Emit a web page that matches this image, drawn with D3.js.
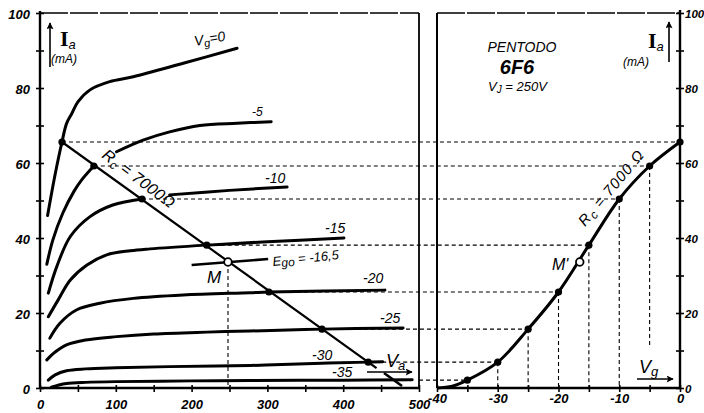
<!DOCTYPE html>
<html><head><meta charset="utf-8">
<script src="https://cdn.jsdelivr.net/npm/d3@7"></script>
<style>
html,body{margin:0;padding:0;background:#fff;}
svg{display:block;}
</style></head><body>
<svg id="c" width="704" height="413" font-family="Liberation Sans, DejaVu Sans, sans-serif" font-style="italic"></svg>
<script>
// ---------- DATA ----------
// Plate characteristics Ia (mA) vs Va (V) for each grid voltage; null = break in the drawn curve
const curveVg0   = [[10,46],[20,57],[29,65.6],[35,70.5],[42,73.2],[50,76.3],[66,79.5],[92,81.7],[123,83],[189,86.6],[260,90.6]];
const curveVg5   = [[9,33],[17,39.5],[30,46.6],[45,52.5],[55,55.5],[71,59.2],null,[101,63],[136,66.1],[171,68.3],[211,70],[260,70.6],[305,71]];
const curveVg10  = [[11,25.3],[22,32.3],[40,40.4],[66,45.7],[96,48.8],[134.6,50.4],null,[171,51.5],[250,52.7],[326,53.6]];
const curveVg15  = [[11,19],[24,23.5],[40,28.8],[62,32.8],[88,35.5],[119,36.6],[145,37.1],[220,38.1],[300,39],[401,40]];
const curveVg20  = [[13,13.3],[26,17.2],[48,20.8],[79,22.6],[123,23.9],[189,24.8],[277,25.4],[302,25.6],[455,26.1]];
const curveVg25  = [[9,7.5],[20,9.6],[35,11.5],[60,12.8],[101,13.7],[150,14.4],[220,14.9],[277,15.2],[372,15.7],[479,16]];
const curveVg30  = [[11,2.1],[20,3.5],[35,4.6],[60,5.1],[100,5.4],[170,5.7],[277,6.0],[372,6.6],[433,6.9],[452,7.0]];
const curveVg35  = [[15,0.2],[25,0.8],[35,1.2],[60,1.5],[100,1.7],[200,1.9],[277,2.0],[400,2.1],[491,2.2]];
const gridVoltages = [0,-5,-10,-15,-20,-25,-30,-35];
// operating points on the 7000 ohm load line
const opVa = [29,71,134.6,220,302,372,433,500];
const opIa = [65.6,59.2,50.4,38.1,25.6,15.7,6.9,2.1];
const loadLineEnds = [[29,65.6],[444,5.3]];
const pointM = [248,33.6];
const egoLine = [[200,32.8],[301,34.4]];
// dynamic transfer characteristic Ia vs Vg
const transferVg = [-40,-37.5,-35,-30,-25,-20,-15,-10,-5,0];
const transferIa = [0,0.5,2.1,6.9,15.7,25.6,38.1,50.4,59.2,65.6];
const pointMprime = [-16.5,33.6];
// ticks
const iaTicks = [0,10,20,30,40,50,60,70,80,90,100];
const vaTicks = [0,50,100,150,200,250,300,350,400,450,500];
const vgTicks = [-40,-35,-30,-25,-20,-15,-10,-5,0];

// ---------- SCALES ----------
const svg = d3.select("#c");
const xL = d3.scaleLinear().domain([0,500]).range([40,419]);
const yI = d3.scaleLinear().domain([0,100]).range([388,13]);
const xR = d3.scaleLinear().domain([-40,0]).range([437,680]);

const defs = svg.append("defs");
defs.append("marker").attr("id","arr").attr("viewBox","0 0 10 10").attr("refX",9).attr("refY",5)
  .attr("markerWidth",9).attr("markerHeight",7).attr("markerUnits","userSpaceOnUse").attr("orient","auto")
  .append("path").attr("d","M0,0 L10,5 L0,10 L2,5 Z").attr("fill","#000");

// ---------- AXES ----------
const axL = svg.append("g").attr("transform",`translate(${xL(0)},0)`)
  .call(d3.axisLeft(yI).tickValues(iaTicks).tickFormat(d=>d%20===0?d:"").tickSize(4).tickPadding(6));
const axB = svg.append("g").attr("transform",`translate(0,${yI(0)})`)
  .call(d3.axisBottom(xL).tickValues(vaTicks).tickFormat(d=>d%100===0?d:"").tickSize(4).tickPadding(7));
const axR = svg.append("g").attr("transform",`translate(${xR(0)},0)`)
  .call(d3.axisRight(yI).tickValues(iaTicks).tickFormat(d=>d%20===0?d:"").tickSize(4).tickPadding(1));
const axRB = svg.append("g").attr("transform",`translate(0,${yI(0)})`)
  .call(d3.axisBottom(xR).tickValues(vgTicks).tickFormat(d=>d%10===0?d:"").tickSize(4).tickPadding(4));
[axL,axB,axR,axRB].forEach(a=>{
  a.attr("font-family",null).attr("font-size",null);
  a.select(".domain").remove();
  a.selectAll("text").attr("font-size",13).attr("font-weight","bold").attr("fill","#000");
  a.selectAll(".tick line").attr("stroke","#000").attr("stroke-width",1.6);
});
axR.selectAll("text").attr("font-size",11.5);
axL.selectAll(".tick line").attr("x1",4).attr("x2",-4);
axR.selectAll(".tick line").attr("x1",-4).attr("x2",4);
axB.selectAll(".tick line").attr("y1",-3).attr("y2",4);
axRB.selectAll(".tick line").attr("y1",-3).attr("y2",4);
axL.selectAll("text").attr("dy","0.4em");
axR.selectAll("text").attr("dy","0.4em");
axRB.selectAll("text").attr("dy","0.55em");
axB.selectAll("text").attr("dy","0.75em");

// frames
const frame = svg.append("g").attr("stroke","#000").attr("fill","none");
frame.append("line").attr("x1",xL(0)).attr("x2",xL(0)).attr("y1",yI(100)-2).attr("y2",yI(0)).attr("stroke-width",2.4);
frame.append("line").attr("x1",xL(0)).attr("x2",xL(500)).attr("y1",yI(0)).attr("y2",yI(0)).attr("stroke-width",2.4);
frame.append("line").attr("x1",xL(500)).attr("x2",xL(500)).attr("y1",yI(100)).attr("y2",yI(0)).attr("stroke-width",1.8);
frame.append("line").attr("x1",xL(0)).attr("x2",xL(500)).attr("y1",yI(100)).attr("y2",yI(100)).attr("stroke-width",1.4).attr("stroke-dasharray","28,2");
frame.append("line").attr("x1",xR(-40)).attr("x2",xR(-40)).attr("y1",yI(100)).attr("y2",yI(0)).attr("stroke-width",2);
frame.append("line").attr("x1",xR(-40)).attr("x2",xR(0)).attr("y1",yI(0)).attr("y2",yI(0)).attr("stroke-width",2.4);
frame.append("line").attr("x1",xR(0)).attr("x2",xR(0)).attr("y1",yI(100)-3).attr("y2",yI(0)).attr("stroke-width",2.4);
frame.append("line").attr("x1",xR(-40)).attr("x2",xR(0)).attr("y1",yI(100)).attr("y2",yI(100)).attr("stroke-width",1.4).attr("stroke-dasharray","28,2");

// ---------- DASHED PROJECTIONS ----------
const dash = svg.append("g").attr("stroke","#000").attr("stroke-width",1.1).attr("stroke-dasharray","4,3").attr("fill","none");
gridVoltages.forEach((vg,i)=>{
  dash.append("line").attr("x1",xL(opVa[i])).attr("x2",xR(vg)).attr("y1",yI(opIa[i])).attr("y2",yI(opIa[i]));
  if (vg<0 && vg>-35) {
    dash.append("line").attr("x1",xR(vg)).attr("x2",xR(vg)).attr("y1",yI(opIa[i])).attr("y2",yI(vg===-5?11:0));
  }
});
dash.append("line").attr("x1",xL(pointM[0])).attr("x2",xL(pointM[0])).attr("y1",yI(pointM[1])).attr("y2",yI(0));

// ---------- CURVES ----------
const lineL = d3.line().defined(d=>d!==null).x(d=>xL(d[0])).y(d=>yI(d[1])).curve(d3.curveCatmullRom.alpha(0.5));
const curves = [curveVg0,curveVg5,curveVg10,curveVg15,curveVg20,curveVg25,curveVg30,curveVg35];
svg.append("g").selectAll("path").data(curves).join("path")
  .attr("d",lineL).attr("fill","none").attr("stroke","#000").attr("stroke-width",3).attr("stroke-linecap","round");

// load line
svg.append("line").attr("x1",xL(loadLineEnds[0][0])).attr("y1",yI(loadLineEnds[0][1]))
  .attr("x2",xL(loadLineEnds[1][0])).attr("y2",yI(loadLineEnds[1][1])).attr("stroke","#000").attr("stroke-width",2.2);
// Ego line
svg.append("line").attr("x1",xL(egoLine[0][0])).attr("y1",yI(egoLine[0][1]))
  .attr("x2",xL(egoLine[1][0])).attr("y2",yI(egoLine[1][1])).attr("stroke","#000").attr("stroke-width",2.6);

// transfer curve
const lineR = d3.line().x(d=>xR(d)).y((d,i)=>yI(transferIa[i])).curve(d3.curveCatmullRom.alpha(0.5));
svg.append("path").attr("d",lineR(transferVg)).attr("fill","none").attr("stroke","#000").attr("stroke-width",3);

// dots
svg.append("g").selectAll("circle").data(opVa.slice(0,7)).join("circle")
  .attr("cx",d=>xL(d)).attr("cy",(d,i)=>yI(opIa[i])).attr("r",3.6).attr("fill","#000");
svg.append("g").selectAll("circle").data(gridVoltages).join("circle")
  .attr("cx",d=>xR(d)).attr("cy",(d,i)=>yI(opIa[i])).attr("r",3.6).attr("fill","#000");
svg.append("circle").attr("cx",xL(pointM[0])).attr("cy",yI(pointM[1])).attr("r",3.8).attr("fill","#fff").attr("stroke","#000").attr("stroke-width",1.8);
svg.append("circle").attr("cx",xR(pointMprime[0])).attr("cy",yI(pointMprime[1])).attr("r",3.8).attr("fill","#fff").attr("stroke","#000").attr("stroke-width",1.8);

// ---------- ARROWS ----------
const arr = (x1,y1,x2,y2,w)=>svg.append("line").attr("x1",x1).attr("y1",y1).attr("x2",x2).attr("y2",y2)
  .attr("stroke","#000").attr("stroke-width",w||1.6).attr("marker-end","url(#arr)");
arr(50,67,50,23);
arr(669,62,669,22);
arr(367,372,412,372);
arr(637,379,673,379);
svg.append("line").attr("x1",384).attr("y1",373).attr("x2",402).attr("y2",386).attr("stroke","#000").attr("stroke-width",2.6);

// ---------- TEXT ----------
function txt(x,y,s,size,opt){
  opt = opt||{};
  const t = svg.append("text").attr("x",x).attr("y",y).attr("font-size",size);
  if (opt.rot!==undefined) t.attr("transform",`rotate(${opt.rot},${x},${y})`);
  if (opt.weight) t.attr("font-weight",opt.weight);
  if (opt.anchor) t.attr("text-anchor",opt.anchor);
  if (opt.ls) t.attr("letter-spacing",opt.ls);
  if (Array.isArray(s)) {
    s.forEach(p=>{ const sp=t.append("tspan").text(p.t); if(p.dy) sp.attr("dy",p.dy); if(p.fs) sp.attr("font-size",p.fs); });
  } else t.text(s);
  return t;
}
// Ia labels
function iaLabel(x,y){
  const t = svg.append("text").attr("x",x).attr("y",y).attr("font-family","Liberation Serif, DejaVu Serif, serif").attr("font-style","normal").attr("font-weight","bold").attr("font-size",22);
  t.append("tspan").text("I");
  t.append("tspan").text("a").attr("font-size",13).attr("dy",3).attr("font-family","Liberation Sans, sans-serif").attr("font-style","italic").attr("font-weight","normal");
}
iaLabel(60,46);
txt(51,63,"(mA)",12);
iaLabel(648,48);
txt(623,66,"(mA)",12);

// curve labels
txt(195,46,[{t:"V"},{t:"g",dy:3,fs:11},{t:"=0",dy:-3}],14,{rot:-10});
txt(252,116,"-5",12);
txt(265,183,"-10",14);
txt(325,233,"-15",14);
txt(363,283,"-20",14);
txt(380,323,"-25",14);
txt(312,360,"-30",14);
txt(332,377,"-35",14);
txt(273,266,[{t:"E"},{t:"go",dy:2,fs:12},{t:" = -16,5",dy:-2}],13,{rot:-6});
txt(207,283,"M",17);
txt(386,367,[{t:"V"},{t:"a",dy:3,fs:13}],18);
txt(639,373,[{t:"V"},{t:"g",dy:3,fs:13}],18);
txt(552,270,"M'",16);

// Rc labels
txt(101,157,[{t:"R"},{t:"c",dy:3,fs:12},{t:" = 7000Ω",dy:-3}],16,{rot:37,ls:0.3});
txt(585,227,[{t:"R"},{t:"c",dy:3,fs:12},{t:" = 7000 Ω",dy:-3}],15,{rot:-50,ls:1});

// title
txt(522,52,"PENTODO",14,{anchor:"middle"});
txt(517,74,"6F6",20,{anchor:"middle",weight:"bold"});
txt(488,91,[{t:"V"},{t:"J",dy:2,fs:10},{t:" = 250V",dy:-2}],13);
</script>
</body></html>
